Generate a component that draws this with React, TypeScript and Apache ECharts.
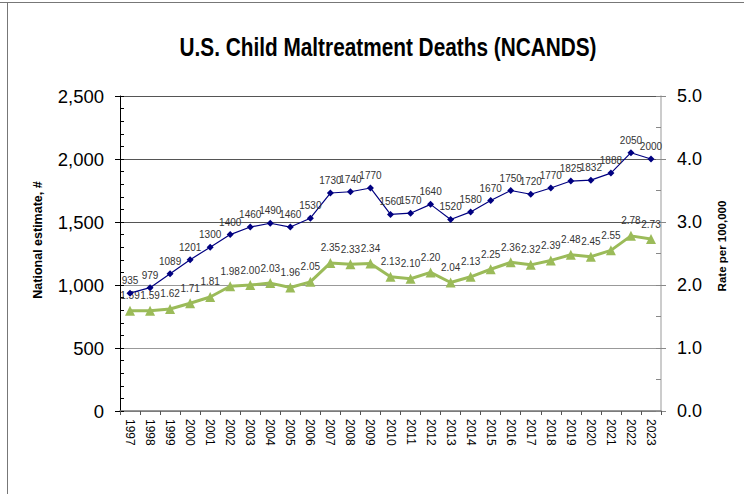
import React, { useEffect, useRef } from "react";
import * as echarts from "echarts";

const years = ["1997","1998","1999","2000","2001","2002","2003","2004","2005","2006","2007","2008","2009","2010","2011","2012","2013","2014","2015","2016","2017","2018","2019","2020","2021","2022","2023"];
const deaths = [935,979,1089,1201,1300,1400,1460,1490,1460,1530,1730,1740,1770,1560,1570,1640,1520,1580,1670,1750,1720,1770,1825,1832,1888,2050,2000];
const rates = [1.59,1.59,1.62,1.71,1.81,1.98,2.00,2.03,1.96,2.05,2.35,2.33,2.34,2.13,2.10,2.20,2.04,2.13,2.25,2.36,2.32,2.39,2.48,2.45,2.55,2.78,2.73];

const FONT = "Liberation Sans, Arial, sans-serif";

export default function App() {
  const ref = useRef<HTMLDivElement>(null);
  useEffect(() => {
    if (!ref.current) return;
    const chart = echarts.init(ref.current, null, { renderer: "svg" });
    chart.setOption({
      animation: false,
      backgroundColor: "#fff",
      textStyle: { fontFamily: FONT },
      graphic: [
        { type: "line", shape: { x1: 0, y1: 2.5, x2: 744, y2: 2.5 }, style: { stroke: "#777", lineWidth: 1 } },
        { type: "line", shape: { x1: 7.5, y1: 2, x2: 7.5, y2: 494 }, style: { stroke: "#777", lineWidth: 1 } },
        {
          type: "text", x: 388, y: 47, scaleX: 0.8,
          style: { text: "U.S. Child Maltreatment Deaths (NCANDS)", font: "bold 26px " + FONT, fill: "#000",
            align: "center", verticalAlign: "middle" },
        },
        {
          type: "text", x: 38, y: 240, rotation: Math.PI / 2,
          style: { text: "National estimate, #", font: "bold 12.5px " + FONT, fill: "#000",
            align: "center", verticalAlign: "middle" },
        },
        {
          type: "text", x: 722, y: 246, rotation: Math.PI / 2,
          style: { text: "Rate per 100,000", font: "bold 11.5px " + FONT, fill: "#000",
            align: "center", verticalAlign: "middle" },
        },
      ],
      grid: { left: 120, right: 83, top: 96, bottom: 83, containLabel: false },
      xAxis: {
        type: "category",
        data: years,
        boundaryGap: true,
        axisLine: { lineStyle: { color: "#777", width: 1.5 } },
        axisTick: { show: true, alignWithLabel: false, length: 4, lineStyle: { color: "#555" } },
        axisLabel: { rotate: -90, fontSize: 12, color: "#000", fontFamily: FONT, margin: 8, interval: 0 },
      },
      yAxis: [
        {
          type: "value",
          min: 0,
          max: 2500,
          interval: 500,
          axisLine: { show: true, lineStyle: { color: "#000", width: 1 } },
          axisTick: { show: true, length: 5, lineStyle: { color: "#000" } },
          axisLabel: { fontSize: 18.5, color: "#000", fontFamily: FONT, margin: 16,
            formatter: (v: number) => v.toLocaleString("en-US") },
          splitLine: { show: true, lineStyle: { color: ["#888", "#999", "#999", "#555", "#555", "#555"], width: 1 } },
        },
        {
          type: "value",
          min: 0,
          max: 5,
          interval: 1,
          axisLine: { show: true, lineStyle: { color: "#bbb", width: 1.5 } },
          axisTick: { show: true, length: 5, lineStyle: { color: "#888" } },
          axisLabel: { fontSize: 18, color: "#000", fontFamily: FONT, margin: 16,
            formatter: (v: number) => v.toFixed(1) },
          splitLine: { show: false },
        },
        {
          type: "value",
          position: "left",
          min: 0,
          max: 2500,
          interval: 100,
          axisLine: { show: false },
          axisTick: { show: true, inside: true, length: 4, lineStyle: { color: "#000" } },
          axisLabel: { show: false },
          splitLine: { show: false },
        },
        {
          type: "value",
          position: "right",
          min: 0,
          max: 5,
          interval: 0.5,
          axisLine: { show: false },
          axisTick: { show: true, inside: true, length: 5, lineStyle: { color: "#888" } },
          axisLabel: { show: false },
          splitLine: { show: false },
        },
      ],
      series: [
        {
          name: "deaths",
          type: "line",
          yAxisIndex: 0,
          data: deaths,
          symbol: "diamond",
          symbolSize: 7,
          lineStyle: { color: "#000080", width: 1.2 },
          itemStyle: { color: "#000080" },
          label: { show: true, position: "top", distance: 4, fontSize: 10, color: "#333", fontFamily: FONT },
          z: 3,
        },
        {
          name: "rate",
          type: "line",
          yAxisIndex: 1,
          data: rates,
          symbol: "triangle",
          symbolSize: 10,
          lineStyle: { color: "#9BBB59", width: 3 },
          itemStyle: { color: "#9BBB59" },
          label: { show: true, position: "top", distance: 5, fontSize: 10, color: "#333", fontFamily: FONT,
            formatter: (p: any) => Number(p.value).toFixed(2) },
          z: 2,
        },
      ],
    });
    return () => chart.dispose();
  }, []);
  return <div ref={ref} style={{ width: 744, height: 494, position: "absolute", left: 0, top: 0 }} />;
}
